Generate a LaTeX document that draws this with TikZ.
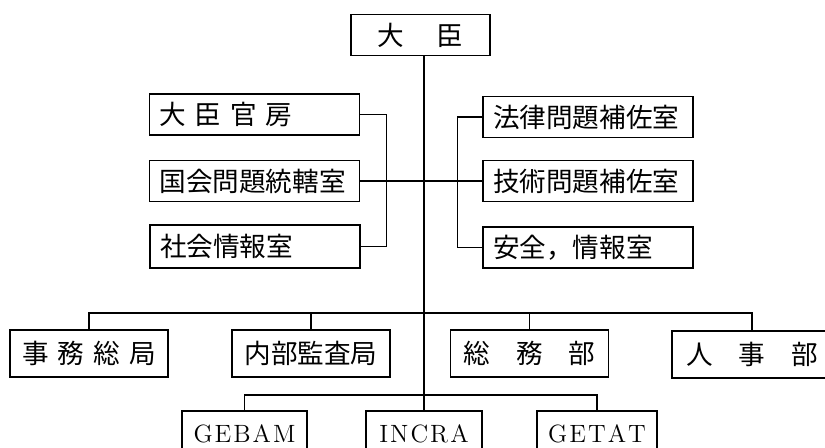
\documentclass[tikz,border=0pt]{standalone}
\usepackage{fontspec}
\newfontfamily\jpfont{Noto Sans CJK JP}

\begin{document}
\begin{tikzpicture}[
    x=0.5pt, y=-0.5pt,
    box/.style={rectangle, draw=black, semithick, inner sep=0pt, minimum height=20.5pt, align=center, font=\jpfont\fontsize{13.3}{15}\selectfont},
    sbox/.style={box, text width=95pt, inner xsep=5pt, align=left},
    bbox/.style={box, minimum width=79pt, minimum height=23.5pt},
    abox/.style={box, minimum height=23pt, font=\fontsize{12.5}{14}\selectfont}
]
\useasboundingbox (0,0) rectangle (825,448);
\clip (0,0) rectangle (825,448);

% Minister
\node[box, minimum width=69.5pt] (minister) at (420.5,35) {大\hspace{16pt}臣};

% left staff
\node[sbox] (kanbo) at (254.5,114.5) {大 臣 官 房};
\node[sbox] (kokkai) at (254.5,181) {国会問題統轄室};
\node[sbox, minimum height=21.5pt] (shakai) at (255,246.5) {社会情報室};

% right staff
\node[sbox] (houritsu) at (588,117) {法律問題補佐室};
\node[sbox] (gijutsu) at (588,181) {技術問題補佐室};
\node[sbox] (anzen) at (588,247.5) {安全，情報室};

\draw[semithick] (kanbo.east) -- ++(26,0) |- (shakai.east);
\draw[semithick] (houritsu.west) -- ++(-25,0) |- (anzen.west);
\draw[semithick] (kokkai.east) -- (gijutsu.west);

% departments
\node[bbox] (jimu) at (89,353.5) {事\hspace{4.5pt}務\hspace{4.5pt}総\hspace{4.5pt}局};
\node[bbox] (naibu) at (311,353.5) {内部監査局};
\node[bbox] (soumu) at (529.5,353.5) {総\hspace{13pt}務\hspace{13pt}部};
\node[bbox, minimum width=80pt] (jinji) at (752,354.5) {人\hspace{13pt}事\hspace{13pt}部};

% agencies
\node[abox, minimum width=62.5pt] (gebam) at (244.5,434) {G\kern1pt E\kern1pt B\kern1pt A\kern1pt M};
\node[abox, minimum width=58pt] (incra) at (424,434) {I\kern1pt N\kern1pt C\kern1pt R\kern1pt A};
\node[abox, minimum width=60pt] (getat) at (597,434) {G\kern1pt E\kern1pt T\kern1pt A\kern1pt T};

\coordinate (bus1) at (424,313);
\coordinate (bus2) at (424,395);

\draw[semithick] (minister.south -| incra.north) -- (incra.north);
\draw[semithick] (jimu.north) |- (bus1) -| (jinji.north);
\draw[semithick] (naibu.north) -- (naibu.north |- bus1);
\draw[semithick] (soumu.north) -- (soumu.north |- bus1);
\draw[semithick] (gebam.north) |- (bus2) -| (getat.north);

\end{tikzpicture}
\end{document}
